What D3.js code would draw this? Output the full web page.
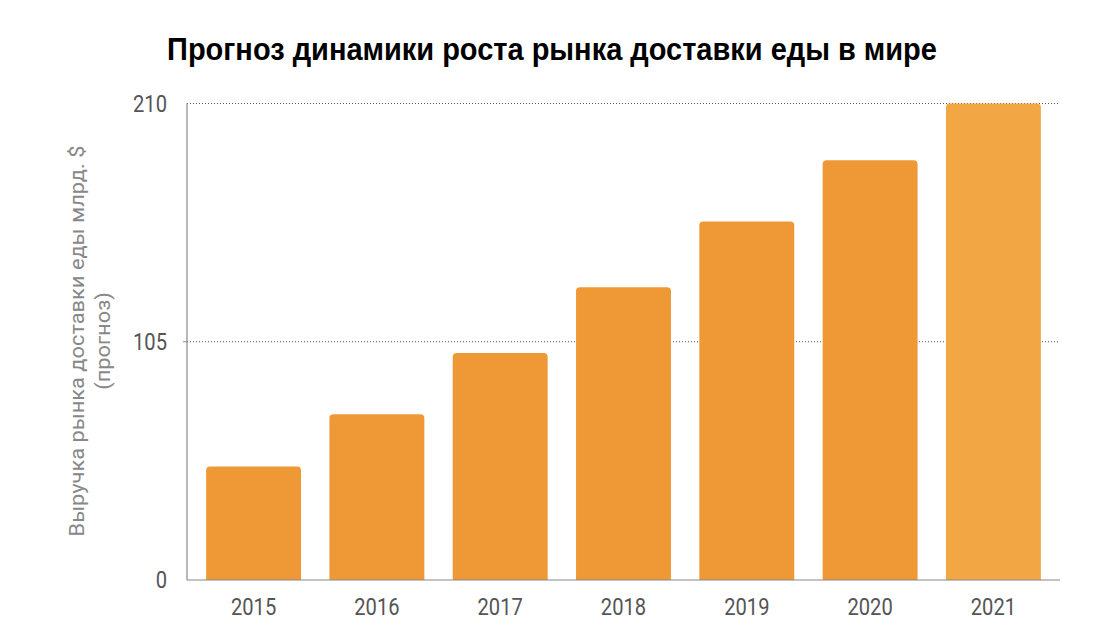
<!DOCTYPE html>
<html><head><meta charset="utf-8">
<script src="https://cdn.jsdelivr.net/npm/d3@7"></script>
<style>body{margin:0;background:#fff}svg{display:block}</style>
</head><body>
<svg id="c" width="1116" height="628"></svg>
<script>
const years = ["2015","2016","2017","2018","2019","2020","2021"];
const revenue = [50, 73, 100, 129, 158, 185, 210];
const barColors = ["#EF9936","#EF9936","#EF9936","#EF9936","#EF9936","#EF9936","#F2A744"];
const yTicks = [0, 105, 210];
const titleText = "Прогноз динамики роста рынка доставки еды в мире";
const yTitle = ["Выручка рынка доставки еды млрд. $", "(прогноз)"];

(function(){
const svg = d3.select("#c");
const pLeft = 187, pRight = 1060, pTop = 103.5, pBottom = 580;
const x = d3.scaleBand().domain(years).range([pLeft, pRight]).paddingInner(0.23).paddingOuter(0.155);
const y = d3.scaleLinear().domain([0, 210]).range([pBottom, pTop]);

svg.append("text").attr("transform","translate(552,60) scale(1,1.05)").attr("text-anchor","middle")
  .attr("font-family","Liberation Sans, Arial, sans-serif").attr("font-weight","bold")
  .attr("font-size", 29).attr("fill","#000").text(titleText);

// grid
svg.append("g").selectAll("line").data(yTicks.filter(d=>d>0)).join("line")
  .attr("x1", pLeft).attr("x2", pRight).attr("y1", d=>y(d)).attr("y2", d=>y(d))
  .attr("stroke","#555").attr("stroke-width",1).attr("stroke-dasharray","1,2");

// bars with rounded top corners
const r = 4;
svg.append("g").selectAll("path").data(years).join("path")
  .attr("fill", (d,i)=>barColors[i])
  .attr("d", (d,i)=>{
    const x0 = x(d), w = x.bandwidth(), y0 = y(revenue[i]), y1 = y(0);
    return `M${x0},${y1}V${y0+r}Q${x0},${y0} ${x0+r},${y0}H${x0+w-r}Q${x0+w},${y0} ${x0+w},${y0+r}V${y1}Z`;
  });

// axes lines
svg.append("line").attr("x1",pLeft).attr("x2",pLeft).attr("y1",pTop).attr("y2",pBottom).attr("stroke","#888").attr("stroke-width",1.2);
svg.append("line").attr("x1",pLeft).attr("x2",pRight).attr("y1",pBottom).attr("y2",pBottom).attr("stroke","#888").attr("stroke-width",1.2);
svg.append("line").attr("x1",pLeft-4).attr("x2",pLeft).attr("y1",y(105)).attr("y2",y(105)).attr("stroke","#888").attr("stroke-width",1);

// y tick labels
svg.append("g").selectAll("text").data(yTicks).join("text")
  .attr("transform", d=>`translate(167,${y(d)+8}) scale(0.84,1)`).attr("text-anchor","end")
  .attr("font-family","Roboto, sans-serif").attr("font-size",24).attr("fill","#555")
  .text(d=>d);

// x tick labels
svg.append("g").selectAll("text").data(years).join("text")
  .attr("transform", d=>`translate(${x(d)+x.bandwidth()/2},615) scale(0.84,1)`).attr("text-anchor","middle")
  .attr("font-family","Roboto, sans-serif").attr("font-size",24).attr("fill","#555")
  .text(d=>d);

// y title
const yt = svg.append("text").attr("transform","translate(84,341) rotate(-90) scale(1.12,1)")
  .attr("text-anchor","middle").attr("font-family","Roboto, sans-serif")
  .attr("font-size",19.5).attr("fill","#888");
yt.append("tspan").attr("x",0).attr("y",0).text(yTitle[0]);
yt.append("tspan").attr("x",0).attr("y",26).text(yTitle[1]);
})();
</script>
</body></html>
